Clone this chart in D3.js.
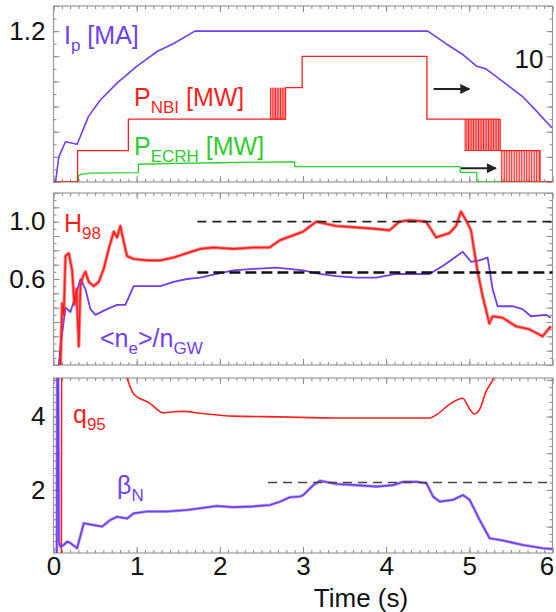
<!DOCTYPE html>
<html><head><meta charset="utf-8">
<script src="https://cdn.jsdelivr.net/npm/d3@7"></script>
<style>
html,body{margin:0;padding:0;background:#fff;}
svg{display:block;font-family:"Liberation Sans",Arial,Helvetica,sans-serif;}
</style></head>
<body><svg id="c" width="556" height="612"></svg>
<script>
// ---------------- DATA ----------------
const xTickLabels = [0,1,2,3,4,5,6];
const topLeftTicks = [1.2];
const topRightTicks = [10];
const midTicks = [1.0, 0.6];
const botTicks = [4, 2];

// Plasma current Ip [MA]
const ipT = [0.024,0.064,0.144,0.284,0.42,0.56,0.77,1.0,1.25,1.44,1.7,4.5,4.72,4.93,5.09,5.2,5.4,5.64,5.8,5.98,6.0];
const ipV = [0,0.20,0.32,0.30,0.52,0.65,0.79,0.92,1.04,1.10,1.2,1.2,1.10,1.01,0.92,0.90,0.80,0.68,0.57,0.44,0.43];

// NBI power envelope [MW] (step-after)
const nbiT = [0,0.29,0.9,2.79,2.99,4.49,5.37,5.85,6.0];
const nbiV = [0,2.5,5.0,7.5,10,5.0,2.5,0,0];
// NBI modulated blocks and pulse times
const nbiModStart = [2.60,4.94,5.37];
const nbiModEnd   = [2.79,5.37,5.85];
const nbiModLo    = [5.0,2.5,0];
const nbiModHi    = [7.5,5.0,2.5];
const nbiPulses = [
  [2.61,2.63,2.65,2.67,2.69,2.71,2.73,2.75,2.77],
  [4.95,4.97,4.99,5.01,5.03,5.05,5.07,5.09,5.11,5.13,5.15,5.17,5.19,5.21,5.23,5.25,5.27,5.29,5.31,5.33,5.35],
  [5.39,5.42,5.45,5.48,5.51,5.54,5.57,5.60,5.63,5.66,5.69,5.72,5.75,5.78,5.81,5.84]
];

// ECRH power [MW]
const ecT = [0,0.3,0.3,0.34,0.45,0.7,1.02,1.02,1.5,2.0,2.5,2.9,2.9,4.89,4.89,5.09,5.09,6.0];
const ecV = [0,0,0.5,0.62,0.70,0.72,0.74,1.41,1.48,1.53,1.58,1.6,1.22,1.22,0.77,0.77,0,0];

// H98
const h98T = [0.084,0.104,0.124,0.144,0.184,0.224,0.252,0.276,0.304,0.324,0.356,0.384,0.424,0.484,0.544,0.604,0.664,0.724,0.764,0.804,0.844,0.884,0.964,1.124,1.284,1.444,1.604,1.764,1.924,2.164,2.404,2.6,2.72,3.0,3.16,3.4,3.64,3.88,4.04,4.16,4.28,4.48,4.6,4.76,4.84,4.9,4.96,5.02,5.10,5.16,5.24,5.28,5.4,5.56,5.72,5.88,5.98];
const h98V = [0,0.43,0.35,0.76,0.78,0.66,0.42,0.53,0.13,0.55,0.62,0.65,0.58,0.55,0.58,0.67,0.81,0.93,0.89,0.97,0.86,0.76,0.74,0.73,0.73,0.75,0.78,0.81,0.82,0.81,0.82,0.82,0.87,0.93,1.0,0.97,0.96,0.95,0.94,1.0,1.01,1.0,0.89,0.92,0.97,1.07,1.01,0.94,0.65,0.48,0.29,0.34,0.33,0.27,0.25,0.20,0.27];

// <ne>/nGW
const neT = [0.064,0.084,0.144,0.204,0.264,0.324,0.384,0.444,0.504,0.644,0.764,0.864,0.964,1.124,1.284,1.444,1.604,1.764,1.924,2.164,2.404,2.684,3.0,3.2,3.4,3.64,3.88,4.12,4.36,4.52,4.68,4.8,4.92,5.02,5.12,5.22,5.28,5.34,5.52,5.64,5.74,5.92,5.98];
const neV = [0,0.13,0.40,0.37,0.48,0.60,0.53,0.39,0.35,0.39,0.42,0.42,0.55,0.55,0.55,0.58,0.60,0.61,0.63,0.66,0.67,0.68,0.66,0.636,0.62,0.61,0.61,0.635,0.635,0.635,0.69,0.74,0.79,0.72,0.73,0.75,0.53,0.41,0.41,0.39,0.34,0.35,0.33];

// q95
const q95T = [0.095,0.1,0.86,0.96,1.16,1.32,1.44,1.56,1.76,2.16,2.72,3.4,4.52,4.6,4.76,4.92,5.0,5.06,5.12,5.2,5.3,5.35];
const q95V = [0,8,5.2,4.63,4.36,4.10,4.13,4.14,4.09,4.01,3.99,3.96,3.96,4.04,4.33,4.50,4.22,4.07,4.18,4.68,5.1,5.5];

// beta_N
const bnT = [0.04,0.045,0.055,0.064,0.084,0.124,0.164,0.204,0.284,0.364,0.484,0.584,0.684,0.764,0.884,0.964,1.124,1.364,1.604,1.764,1.964,2.164,2.404,2.604,2.724,2.844,2.964,3.004,3.124,3.204,3.404,3.644,3.884,4.084,4.204,4.364,4.484,4.564,4.644,4.804,4.924,5.004,5.124,5.244,5.404,5.644,5.884,6.0];
const bnV = [0.28,6,6,0.59,0.45,0.50,0.59,0.55,0.41,1.09,1.04,1.0,1.18,1.27,1.22,1.36,1.41,1.41,1.45,1.50,1.56,1.53,1.55,1.59,1.68,1.80,1.82,1.86,2.13,2.25,2.16,2.13,2.09,2.13,2.22,2.22,2.18,1.82,1.68,1.73,1.86,1.73,1.18,0.68,0.62,0.50,0.41,0.39];

// reference (dashed) levels
const refNames = ["H98","ne","betaN"];
const refStart = [1.73,1.73,2.58];
const refValue = [1.0,0.645,2.2];

// arrows (annotations in data coordinates: time, power)
const arrowT0 = [4.57,4.90];
const arrowT1 = [5.0,5.32];
const arrowP  = [7.4,1.1];

// ---------------- STYLE / LAYOUT ----------------
const PURPLE = "#6f3ff0", RED = "#ff1f1f", GREEN = "#2ecc2e";
const svg = d3.select("#c");
const x = d3.scaleLinear().domain([0,6]).range([53.5,552.5]);
const panels = {
  top: {y0:6, y1:182},
  mid: {y0:193, y1:365},
  bot: {y0:378, y1:553}
};
const yIp = d3.scaleLinear().domain([0,1.4]).range([182,6]);
const yP  = d3.scaleLinear().domain([0,14]).range([182,6]);
const yM  = d3.scaleLinear().domain([0,1.2]).range([365,193]);
const yB  = d3.scaleLinear().domain([0.28,5.05]).range([553,378]);

const defs = svg.append("defs");
Object.entries(panels).forEach(([k,p])=>{
  defs.append("clipPath").attr("id","clip-"+k).append("rect")
    .attr("x",x(0)).attr("y",p.y0).attr("width",x(6)-x(0)).attr("height",p.y1-p.y0);
});
defs.append("marker").attr("id","arrow").attr("viewBox","0 0 10 10")
  .attr("refX",9).attr("refY",5).attr("markerWidth",5).attr("markerHeight",5)
  .attr("orient","auto").append("path").attr("d","M0,0L10,5L0,10z").attr("fill","#222");

const TICKC = "#8a8a8a";
function frame(p, yScale, yMinor, yMajor){
  const g = svg.append("g");
  const minorX = d3.range(0,6.0001,0.1).map(v=>+v.toFixed(2));
  const majorX = xTickLabels;
  const addAxis = (axis, tr) => {
    const a = g.append("g").attr("transform",tr).call(axis);
    a.select(".domain").remove();
    a.selectAll("line").attr("stroke",TICKC);
  };
  addAxis(d3.axisBottom(x).tickValues(minorX).tickSize(-3).tickFormat(""), `translate(0,${p.y1})`);
  addAxis(d3.axisBottom(x).tickValues(majorX).tickSize(-6).tickFormat(""), `translate(0,${p.y1})`);
  addAxis(d3.axisTop(x).tickValues(minorX).tickSize(-3).tickFormat(""), `translate(0,${p.y0})`);
  addAxis(d3.axisTop(x).tickValues(majorX).tickSize(-6).tickFormat(""), `translate(0,${p.y0})`);
  addAxis(d3.axisLeft(yScale).tickValues(yMinor).tickSize(-3).tickFormat(""), `translate(${x(0)},0)`);
  addAxis(d3.axisLeft(yScale).tickValues(yMajor).tickSize(-6).tickFormat(""), `translate(${x(0)},0)`);
  addAxis(d3.axisRight(yScale).tickValues(yMinor).tickSize(-3).tickFormat(""), `translate(${x(6)},0)`);
  addAxis(d3.axisRight(yScale).tickValues(yMajor).tickSize(-6).tickFormat(""), `translate(${x(6)},0)`);
  g.append("rect").attr("x",x(0)).attr("y",p.y0).attr("width",x(6)-x(0)).attr("height",p.y1-p.y0)
    .attr("fill","none").attr("stroke","#999").attr("stroke-width",1.2);
}
const rng = (a,b,s)=>d3.range(a,b+1e-9,s).map(v=>+v.toFixed(3));
frame(panels.top, yIp, rng(0,1.4,0.1), rng(0,1.4,0.2));
frame(panels.mid, yM, rng(0,1.2,0.05), rng(0,1.2,0.1));
frame(panels.bot, yB, rng(0.4,5.0,0.2), rng(1,5,1));

// tick labels
function labelAxis(axis, tr){
  const a = svg.append("g").attr("transform",tr).call(axis);
  a.select(".domain").remove();
  a.selectAll("text").attr("font-size",26).attr("fill","#111").attr("font-family",null);
  return a;
}
labelAxis(d3.axisLeft(yIp).tickValues(topLeftTicks).tickSize(0).tickPadding(8).tickFormat(d3.format(".1f")), `translate(${x(0)},0)`);
labelAxis(d3.axisLeft(yM).tickValues(midTicks).tickSize(0).tickPadding(8).tickFormat(d3.format(".1f")), `translate(${x(0)},0)`);
labelAxis(d3.axisLeft(yB).tickValues(botTicks).tickSize(0).tickPadding(8).tickFormat(d3.format("d")), `translate(${x(0)},0)`);
const rAx = labelAxis(d3.axisRight(yP).tickValues(topRightTicks).tickSize(0).tickFormat(d3.format("d")), `translate(${x(6)},0)`);
rAx.selectAll("text").attr("text-anchor","end").attr("x",-9).attr("dy","0.45em");
const xAx = labelAxis(d3.axisBottom(x).tickValues(xTickLabels).tickSize(0).tickPadding(4).tickFormat(d3.format("d")), `translate(0,${panels.bot.y1})`);
// keep the last label ("6") inside the picture
xAx.selectAll("text").filter(d=>d===6).attr("dx","-6");
svg.append("text").attr("x",361).attr("y",607).attr("text-anchor","middle")
  .attr("font-size",26).attr("fill","#111").text("Time (s)");

// ---------------- SERIES ----------------
const zip = (T,V)=>T.map((t,i)=>[t,V[i]]);
function series(panel, yScale, T, V, color, width, curve, opacity){
  const line = d3.line().x(d=>x(d[0])).y(d=>yScale(d[1])).curve(curve||d3.curveLinear);
  svg.append("path").attr("clip-path",`url(#clip-${panel})`)
    .attr("d", line(zip(T,V))).attr("fill","none").attr("stroke",color)
    .attr("stroke-width",width).attr("stroke-linejoin","round").attr("opacity",opacity==null?1:opacity);
}

// top panel
series("top", yP, ecT, ecV, GREEN, 1.3);
// NBI modulated blocks
const gMod = svg.append("g").attr("clip-path","url(#clip-top)");
nbiModStart.forEach((t0,i)=>{
  gMod.append("rect").attr("x",x(t0)).attr("width",x(nbiModEnd[i])-x(t0))
    .attr("y",yP(nbiModHi[i])).attr("height",yP(nbiModLo[i])-yP(nbiModHi[i]))
    .attr("fill",RED).attr("opacity",0.18);
  gMod.selectAll(null).data(nbiPulses[i]).enter().append("line")
    .attr("x1",d=>x(d)).attr("x2",d=>x(d))
    .attr("y1",yP(nbiModLo[i])).attr("y2",yP(nbiModHi[i]))
    .attr("stroke",RED).attr("stroke-width",1);
  gMod.append("line").attr("x1",x(t0)).attr("x2",x(nbiModEnd[i]))
    .attr("y1",yP(nbiModLo[i])).attr("y2",yP(nbiModLo[i])).attr("stroke",RED).attr("stroke-width",1);
});
series("top", yP, nbiT, nbiV, RED, 1.3, d3.curveStepAfter);
series("top", yIp, ipT, ipV, PURPLE, 1.6);

// arrows
arrowT0.forEach((t0,i)=>{
  svg.append("line").attr("x1",x(t0)).attr("x2",x(arrowT1[i]))
    .attr("y1",yP(arrowP[i])).attr("y2",yP(arrowP[i]))
    .attr("stroke","#222").attr("stroke-width",2).attr("marker-end","url(#arrow)");
});

// middle panel
series("mid", yM, neT, neV, PURPLE, 1.8);
series("mid", yM, h98T, h98V, RED, 3.4, d3.curveLinear, 0.55);
series("mid", yM, h98T, h98V, RED, 1.6);
// bottom panel
series("bot", yB, q95T, q95V, RED, 1.6, d3.curveMonotoneX);
series("bot", yB, bnT, bnV, PURPLE, 3, d3.curveLinear, 0.5);
series("bot", yB, bnT, bnV, PURPLE, 1.6);

// dashed reference lines
const refPanel = ["mid","mid","bot"], refScale=[yM,yM,yB];
const refDash = ["9,6","11,5","9,6"], refW=[1.6,2.6,1.5], refC=["#222","#111","#444"];
refNames.forEach((n,i)=>{
  svg.append("line").attr("x1",x(refStart[i])).attr("x2",x(6))
    .attr("y1",refScale[i](refValue[i])).attr("y2",refScale[i](refValue[i]))
    .attr("stroke",refC[i]).attr("stroke-width",refW[i]).attr("stroke-dasharray",refDash[i]);
});

// ---------------- LABELS ----------------
function label(xp, yp, color, parts){
  const t = svg.append("text").attr("x",xp).attr("y",yp).attr("fill",color).attr("font-size",25);
  let shifted=false;
  parts.forEach(([s,sub])=>{
    const ts = t.append("tspan").text(s);
    if(sub && !shifted){ ts.attr("dy",7).attr("font-size",17); shifted=true; }
    else if(!sub && shifted){ ts.attr("dy",-7); shifted=false; }
  });
}
label(64, 44, PURPLE, [["I"],["p",1],[" [MA]"]]);
label(134, 106, RED, [["P"],["NBI",1],[" [MW]"]]);
label(134, 155, GREEN, [["P"],["ECRH",1],[" [MW]"]]);
label(64, 232, RED, [["H"],["98",1]]);
label(100, 347, PURPLE, [["<n"],["e",1],[">/n"],["GW",1]]);
label(73, 423, RED, [["q"],["95",1]]);
label(117, 494, PURPLE, [["β"],["N",1]]);
</script></body></html>
